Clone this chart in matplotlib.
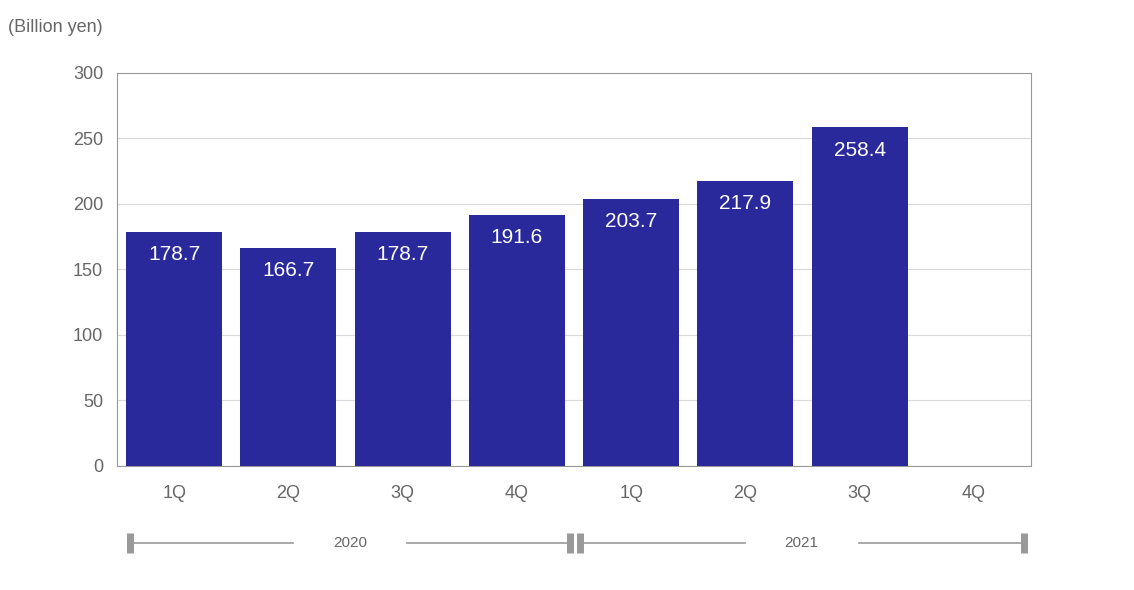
import matplotlib
matplotlib.use("Agg")
import matplotlib.pyplot as plt
import matplotlib.transforms as mtransforms

quarters = ["1Q", "2Q", "3Q", "4Q", "1Q", "2Q", "3Q", "4Q"]
values = [178.7, 166.7, 178.7, 191.6, 203.7, 217.9, 258.4, None]
years = ["2020", "2021"]
yticks = [0, 50, 100, 150, 200, 250, 300]

plt.rcParams["font.family"] = "Liberation Sans"
fig = plt.figure(figsize=(11.34, 5.9), dpi=100)
ax = fig.add_axes([0.1032, 0.2102, 0.8060, 0.6661])
x = list(range(len(quarters)))
for i, v in enumerate(values):
    if v is None:
        continue
    ax.bar(i, v, width=0.84, color="#2a299c", zorder=3)
    ax.text(i, v - 10, f"{v:.1f}", ha="center", va="top", color="white", fontsize=15, zorder=4)
ax.set_xlim(-0.5, 7.5)
ax.set_ylim(0, 300)
ax.set_yticks(yticks)
ax.set_xticks(x)
ax.set_xticklabels(quarters)
ax.tick_params(length=0, colors="#666666", labelsize=13, pad=10)
ax.tick_params(axis="x", pad=14)
ax.grid(axis="y", color="#d9d9d9", lw=0.8, zorder=0)
for s in ax.spines.values():
    s.set_color("#999999")
    s.set_linewidth(0.8)
fig.text(8/1134, 1-28/590, "(Billion yen)", fontsize=13, color="#666666", va="center")

tr = mtransforms.blended_transform_factory(ax.transData, ax.transAxes)
yb = -0.196
for (x0, x1), lab in zip([(-0.386, 3.463), (3.55, 7.435)], years):
    xm = (x0 + x1) / 2
    gap = 0.5
    ax.plot([x0, xm - gap], [yb, yb], color="#999999", lw=1.2, transform=tr, clip_on=False)
    ax.plot([xm + gap, x1], [yb, yb], color="#999999", lw=1.2, transform=tr, clip_on=False)
    for xe in (x0, x1):
        ax.plot([xe, xe], [yb - 0.025, yb + 0.025], color="#999999", lw=5, transform=tr,
                clip_on=False, solid_capstyle="butt")
    ax.text(xm, yb, lab, ha="center", va="center", fontsize=11, color="#666666", transform=tr)

fig.savefig("out.png", dpi=100)
